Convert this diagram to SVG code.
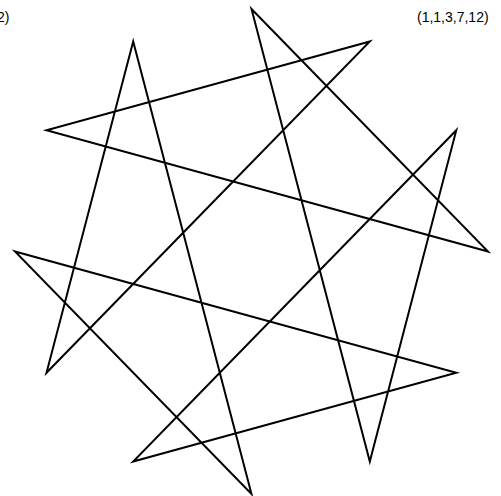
<svg xmlns="http://www.w3.org/2000/svg" width="501" height="496" viewBox="0 0 501 496">
<style>
.lbl{font-family:"Liberation Sans",Arial,sans-serif;font-size:14px;fill:#000}
.edge{fill:none;stroke:#000;stroke-width:2;stroke-linejoin:miter;stroke-miterlimit:20}
</style>
<rect width="501" height="496" fill="#fff"/>
<g id="labels">
<text class="lbl" x="9.5" y="22" text-anchor="end">2)</text>
<text class="lbl" x="417" y="22">(1,1,3,7,12)</text>
</g>
<g id="connectors">
<polygon class="edge" points="251.5,9 488,251.5 46.5,130.2 369.8,41.5 46.5,372.8 133.2,41.5 251.5,494 15,251.5 456.3,372.8 133.2,461.5 456.3,130.2 369.8,461.5"/>
</g>
</svg>
